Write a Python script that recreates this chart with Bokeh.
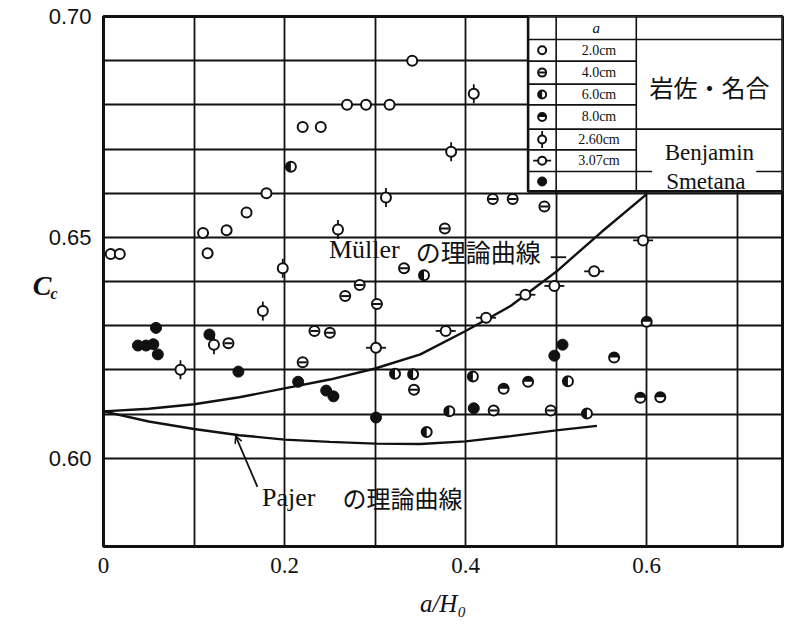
import numpy as np
from bokeh.plotting import figure
from bokeh.models import FixedTicker, Label, Arrow, OpenHead, Range1d, LinearAxis
from bokeh.embed import file_html
from bokeh.resources import INLINE

# ---------------- data ----------------
# 2.0cm (Iwasa & Nago) open circles
s20_x = [0.341, 0.269, 0.290, 0.316, 0.220, 0.240, 0.180, 0.158, 0.110, 0.136, 0.008, 0.018, 0.115]
s20_y = [0.690, 0.680, 0.680, 0.680, 0.675, 0.675, 0.660, 0.6556, 0.651, 0.6516, 0.6462, 0.6462, 0.6464]
# 4.0cm
s40_x = [0.430, 0.452, 0.487, 0.377, 0.332, 0.233, 0.250, 0.138, 0.220, 0.283, 0.267, 0.302, 0.343, 0.431, 0.494]
s40_y = [0.6587, 0.6587, 0.657, 0.652, 0.643, 0.6288, 0.6284, 0.626, 0.6217, 0.6392, 0.6367, 0.6349, 0.6155, 0.6108, 0.6108]
# 6.0cm
s60_x = [0.207, 0.354, 0.322, 0.342, 0.408, 0.513, 0.534, 0.382, 0.357]
s60_y = [0.666, 0.6414, 0.6191, 0.619, 0.6185, 0.6174, 0.6101, 0.6106, 0.6059]
# 8.0cm
s80_x = [0.600, 0.564, 0.593, 0.615, 0.442, 0.469]
s80_y = [0.6309, 0.6228, 0.6137, 0.6138, 0.6157, 0.6173]
# Benjamin 2.60cm
s260_x = [0.409, 0.384, 0.312, 0.259, 0.198, 0.176, 0.122, 0.085]
s260_y = [0.6825, 0.6694, 0.659, 0.6518, 0.643, 0.6333, 0.6257, 0.620]
# Benjamin 3.07cm
s307_x = [0.301, 0.378, 0.4226, 0.466, 0.498, 0.542, 0.596]
s307_y = [0.625, 0.6288, 0.6318, 0.637, 0.639, 0.6423, 0.6493]
# Smetana (filled)
sm_x = [0.038, 0.047, 0.055, 0.058, 0.060, 0.117, 0.149, 0.215, 0.246, 0.254, 0.507, 0.498, 0.409, 0.301]
sm_y = [0.6255, 0.6255, 0.6258, 0.6295, 0.6235, 0.628, 0.6196, 0.6173, 0.6153, 0.614, 0.6257, 0.6232, 0.6113, 0.6092]

# theoretical curves
muller_x = [0.0, 0.05, 0.10, 0.15, 0.20, 0.25, 0.30, 0.35, 0.40, 0.45, 0.50, 0.55, 0.60]
muller_y = [0.6106, 0.6112, 0.6122, 0.6138, 0.6158, 0.6178, 0.6203, 0.6235, 0.6288, 0.6345, 0.6422, 0.6512, 0.6598]
pajer_x = [0.0, 0.05, 0.10, 0.15, 0.20, 0.25, 0.30, 0.35, 0.40, 0.45, 0.50, 0.545]
pajer_y = [0.6106, 0.6083, 0.6066, 0.6052, 0.6042, 0.6037, 0.6033, 0.6032, 0.6038, 0.6050, 0.6063, 0.6073]

x_ticks = [0, 0.2, 0.4, 0.6]
x_tick_labels = ["0", "0.2", "0.4", "0.6"]
y_ticks = [0.6, 0.65, 0.7]
y_tick_labels = ["0.60", "0.65", "0.70"]
x_grid = [0.1, 0.2, 0.3, 0.4, 0.5, 0.6, 0.7]
y_grid = [0.60, 0.61, 0.62, 0.63, 0.64, 0.65, 0.66, 0.67, 0.68, 0.69]

legend_values = ["2.0cm", "4.0cm", "6.0cm", "8.0cm", "2.60cm", "3.07cm", ""]

INK = "#111111"
SERIF = "Liberation Serif"
CJK = "Noto Sans CJK JP"

p = figure(frame_width=679, frame_height=530,
           min_border_left=103, min_border_right=6, min_border_top=16, min_border_bottom=72,
           x_range=Range1d(0, 0.75), y_range=Range1d(0.58, 0.70),
           output_backend="svg", toolbar_location=None)
p.background_fill_color = "white"
p.border_fill_color = "white"
p.outline_line_color = INK
p.outline_line_width = 3

# axes
p.xaxis.ticker = FixedTicker(ticks=x_ticks)
p.xaxis.major_label_overrides = {t: l for t, l in zip(x_ticks, x_tick_labels)}
p.yaxis.ticker = FixedTicker(ticks=y_ticks)
p.yaxis.major_label_overrides = {t: l for t, l in zip(y_ticks, y_tick_labels)}
for ax in (p.xaxis, p.yaxis):
    ax.axis_line_color = None
    ax.major_tick_line_color = None
    ax.minor_tick_line_color = None
    ax.major_label_text_color = INK
p.xaxis.major_label_text_font = SERIF
p.xaxis.major_label_text_font_size = "23px"
p.xaxis.major_label_standoff = 5
p.yaxis.major_label_text_font = "Liberation Sans"
p.yaxis.major_label_text_font_size = "22px"
p.yaxis.major_label_standoff = 6
p.xaxis.axis_label = "a/H\u2080"
p.xaxis.axis_label_text_font = SERIF
p.xaxis.axis_label_text_font_style = "italic"
p.xaxis.axis_label_text_font_size = "25px"
p.xaxis.axis_label_text_color = INK
p.xaxis.axis_label_standoff = 14

# y-axis title C_c: subscript "c" and capital "C" as tick labels of two extra left axes
def title_axis(tick, text, size, standoff):
    ax = LinearAxis(ticker=FixedTicker(ticks=[tick]), major_label_overrides={tick: text})
    ax.axis_line_color = None
    ax.major_tick_line_color = None
    ax.minor_tick_line_color = None
    ax.major_tick_in = 0
    ax.major_tick_out = 0
    ax.major_label_standoff = standoff
    ax.major_label_text_font = SERIF
    ax.major_label_text_font_style = "bold italic"
    ax.major_label_text_font_size = size
    ax.major_label_text_color = INK
    p.add_layout(ax, "left")

title_axis(0.6372, "c", "16px", -12)
title_axis(0.6392, "C", "28px", -6)

# grid
p.xgrid.ticker = FixedTicker(ticks=x_grid)
p.ygrid.ticker = FixedTicker(ticks=y_grid)
for g in (p.xgrid, p.ygrid):
    g.grid_line_color = INK
    g.grid_line_width = 1.8
    g.grid_line_alpha = 1.0

# curves
p.line(muller_x, muller_y, line_color=INK, line_width=2.4)
p.line(pajer_x, pajer_y, line_color=INK, line_width=2.4)


def draw_markers(kind, xs, ys, size=10):
    r = size / 2.0
    if kind == "260":
        p.scatter(xs, ys, marker="dash", angle=np.pi / 2, size=size + 9, line_color=INK, line_width=1.8)
    if kind == "307":
        p.scatter(xs, ys, marker="dash", size=size + 10, line_color=INK, line_width=1.8)
    if kind == "sm":
        p.scatter(xs, ys, marker="circle", size=size + 1, fill_color=INK, line_color=INK, line_width=1)
        return
    p.scatter(xs, ys, marker="circle", size=size, fill_color="white", line_color=INK, line_width=2)
    if kind == "40":
        p.scatter(xs, ys, marker="dash", size=size - 2, line_color=INK, line_width=2)
    if kind == "60":
        p.wedge(xs, ys, radius=r, radius_units="screen", start_angle=np.pi / 2, end_angle=3 * np.pi / 2,
                fill_color=INK, line_color=None)
    if kind == "80":
        p.wedge(xs, ys, radius=r, radius_units="screen", start_angle=0, end_angle=np.pi,
                fill_color=INK, line_color=None)


draw_markers("20", s20_x, s20_y)
draw_markers("40", s40_x, s40_y)
draw_markers("60", s60_x, s60_y)
draw_markers("80", s80_x, s80_y)
draw_markers("260", s260_x, s260_y)
draw_markers("307", s307_x, s307_y)
draw_markers("sm", sm_x, sm_y)

# ---------- curve annotations ----------
def add_label(x, y, text, font, size, align="left", style="normal"):
    p.add_layout(Label(x=x, y=y, text=text, text_font=font, text_font_size=size,
                       text_align=align, text_baseline="middle", text_color=INK,
                       text_font_style=style))

add_label(0.249, 0.6472, "M\u00fcller", SERIF, "26px")
add_label(0.345, 0.6470, "の理論曲線", CJK, "25px")
p.segment(x0=[0.494], y0=[0.6455], x1=[0.511], y1=[0.6455], line_color=INK, line_width=1.8)

add_label(0.175, 0.5912, "Pajer", SERIF, "26px")
add_label(0.264, 0.5912, "の理論曲線", CJK, "24px")
p.add_layout(Arrow(end=OpenHead(size=7, line_color=INK, line_width=1.5), line_color=INK, line_width=1.8,
                   x_start=0.170, y_start=0.5935, x_end=0.146, y_end=0.6050))

# ---------- legend table ----------
lg_left, lg_c1, lg_c2, lg_right = 0.469, 0.500, 0.5885, 0.750
lg_top, lg_bottom = 0.700, 0.6604
row_edges = [0.6948, 0.6899, 0.6847, 0.6800, 0.6745, 0.6698, 0.6649]

p.quad(left=[lg_left], right=[lg_right], top=[lg_top], bottom=[lg_bottom],
       fill_color="white", line_color=INK, line_width=2.6)
p.segment(x0=[lg_c1, lg_c2], y0=[lg_top, lg_top], x1=[lg_c1, lg_c2], y1=[lg_bottom, lg_bottom],
          line_color=INK, line_width=1.6)
p.segment(x0=[lg_left] * len(row_edges), y0=row_edges, x1=[lg_c2] * len(row_edges), y1=row_edges,
          line_color=INK, line_width=1.6)
p.segment(x0=[lg_c2, lg_c2, lg_c2, 0.721], y0=[0.6948, 0.6745, 0.6649, 0.6649],
          x1=[lg_right, lg_right, 0.606, lg_right], y1=[0.6948, 0.6745, 0.6649, 0.6649],
          line_color=INK, line_width=1.6)

row_centers = [(a + b) / 2 for a, b in zip(row_edges, row_edges[1:] + [lg_bottom])]
sym_x = (lg_left + lg_c1) / 2
val_x = (lg_c1 + lg_c2) / 2
lab_x = (lg_c2 + lg_right) / 2

add_label(val_x, (lg_top + row_edges[0]) / 2, "a", SERIF, "15px", align="center", style="italic")
for txt, yc in zip(legend_values, row_centers):
    if txt:
        add_label(val_x + 0.003, yc, txt, SERIF, "14px", align="center")

kinds = ["20", "40", "60", "80", "260", "307", "sm"]
for k, yc in zip(kinds, row_centers):
    draw_markers(k, [sym_x], [yc], size=8)

add_label(lab_x, 0.6842, "岩佐・名合", CJK, "24px", align="center")
add_label(lab_x, 0.6692, "Benjamin", SERIF, "23px", align="center")
add_label(lab_x - 0.004, 0.6627, "Smetana", SERIF, "23px", align="center")

open("out.html", "w").write(file_html(p, INLINE))
